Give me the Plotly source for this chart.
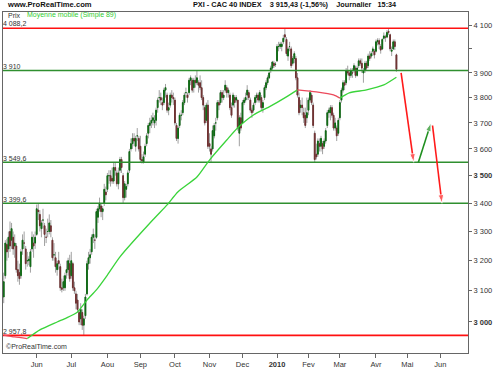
import math
import pandas as pd
import plotly.graph_objects as go

# ---------------- data ----------------
holidays = ["2009-05-01", "2009-12-25", "2010-01-01", "2010-04-02", "2010-04-05"]
first_day, last_day = "2009-04-30", "2010-04-22"

opens = [
    3080,
    3150, 3255, 3240, 3300, 3270, 3280, 3250, 3250, 3170, 3160, 3150, 3240, 3260, 3240, 3200, 3200, 3180, 3240, 3260, 3260,
    3290, 3375, 3360, 3310, 3340, 3320, 3280, 3300, 3300, 3320, 3270, 3220, 3210, 3170, 3200, 3180, 3110, 3110, 3110, 3160, 3170, 3190,
    3150, 3190, 3110, 3090, 3070, 3030, 3010, 3030, 2990, 3020, 3090, 3190, 3210, 3230, 3280, 3270, 3280, 3350, 3380, 3390, 3370, 3400, 3440,
    3450, 3500, 3500, 3490, 3480, 3530, 3510, 3470, 3520, 3560, 3500, 3420, 3450, 3470, 3520, 3600, 3620, 3640, 3610, 3650, 3640,
    3610, 3560, 3550, 3580, 3620, 3660, 3690, 3700, 3710, 3700, 3710, 3760, 3800, 3800, 3780, 3780, 3830, 3810, 3750, 3770, 3810, 3800,
    3790, 3690, 3640, 3690, 3730, 3740, 3780, 3820, 3810, 3820, 3870, 3870, 3840, 3870, 3860, 3860, 3860, 3840, 3800, 3760, 3710, 3770,
    3620, 3600, 3600, 3650, 3700, 3720, 3780, 3780, 3820, 3800, 3830, 3840, 3820, 3810, 3760, 3770, 3800, 3790, 3790, 3660, 3720,
    3700, 3780, 3790, 3810, 3820, 3790, 3750, 3750, 3780, 3800, 3810, 3790, 3800, 3760, 3800, 3840, 3860, 3880, 3910, 3920, 3940, 3935,
    3950, 4010, 4010, 4010, 4030, 4060, 4040, 3970, 4010, 4000, 3940, 3960, 3960, 3880, 3800, 3760, 3770, 3740, 3730, 3720,
    3750, 3790, 3810, 3770, 3660, 3580, 3580, 3620, 3610, 3620, 3610, 3630, 3690, 3740, 3740, 3760, 3730, 3680, 3680, 3660,
    3720, 3790, 3830, 3860, 3860, 3910, 3900, 3890, 3900, 3910, 3920, 3890, 3930, 3950, 3940, 3900, 3910, 3940, 3930, 3970, 3970, 3990, 3990,
    3990, 4030, 4035, 4010, 4000, 4045, 4050, 4050, 4075, 4060, 3990, 4000, 4030, 3975,
]
highs = [
    3160,
    3270, 3275, 3300, 3335, 3330, 3300, 3290, 3260, 3200, 3190, 3240, 3290, 3300, 3250, 3230, 3215, 3240, 3300, 3290, 3300,
    3395, 3400, 3375, 3340, 3380, 3330, 3310, 3345, 3360, 3340, 3280, 3260, 3230, 3200, 3230, 3190, 3140, 3150, 3160, 3200, 3210, 3220,
    3230, 3195, 3130, 3100, 3090, 3040, 3060, 3040, 3020, 3090, 3200, 3230, 3240, 3290, 3310, 3290, 3380, 3390, 3420, 3400, 3390, 3470, 3460,
    3510, 3520, 3520, 3530, 3550, 3550, 3520, 3530, 3570, 3570, 3510, 3480, 3470, 3520, 3600, 3640, 3660, 3660, 3650, 3680, 3650,
    3650, 3580, 3590, 3620, 3660, 3700, 3720, 3730, 3740, 3730, 3760, 3800, 3830, 3820, 3800, 3840, 3855, 3820, 3780, 3820, 3830, 3820,
    3800, 3700, 3690, 3740, 3750, 3790, 3820, 3840, 3820, 3880, 3890, 3880, 3880, 3890, 3910, 3870, 3890, 3870, 3810, 3770, 3780, 3790,
    3660, 3610, 3690, 3700, 3720, 3790, 3790, 3830, 3830, 3830, 3870, 3850, 3840, 3820, 3780, 3820, 3810, 3810, 3790, 3730, 3740,
    3790, 3800, 3820, 3850, 3830, 3800, 3760, 3780, 3810, 3820, 3820, 3830, 3810, 3790, 3850, 3870, 3890, 3905, 3930, 3950, 3950, 3945,
    4020, 4030, 4030, 4030, 4060, 4088, 4050, 4010, 4030, 4010, 3970, 3990, 3970, 3900, 3820, 3790, 3800, 3760, 3760, 3800,
    3800, 3830, 3820, 3780, 3670, 3620, 3640, 3640, 3650, 3630, 3640, 3680, 3750, 3760, 3770, 3770, 3740, 3720, 3690, 3720,
    3790, 3840, 3870, 3870, 3920, 3930, 3910, 3920, 3920, 3940, 3930, 3930, 3960, 3960, 3960, 3920, 3950, 3950, 3980, 3990, 3990, 4010, 4000,
    4040, 4045, 4045, 4020, 4045, 4070, 4060, 4080, 4088, 4065, 4010, 4040, 4040, 3980,
]
lows = [
    3060,
    3140, 3200, 3210, 3230, 3240, 3220, 3210, 3160, 3130, 3120, 3140, 3220, 3240, 3170, 3180, 3185, 3160, 3230, 3210, 3240,
    3285, 3340, 3300, 3280, 3310, 3250, 3260, 3280, 3290, 3280, 3200, 3200, 3160, 3150, 3170, 3100, 3095, 3100, 3100, 3140, 3150, 3130,
    3140, 3100, 3090, 3040, 3030, 2990, 2990, 2975, 2958, 3010, 3085, 3170, 3190, 3220, 3260, 3240, 3275, 3330, 3370, 3350, 3340, 3390, 3410,
    3440, 3470, 3460, 3470, 3470, 3500, 3460, 3450, 3510, 3510, 3400, 3410, 3420, 3460, 3510, 3590, 3600, 3610, 3590, 3630, 3590,
    3550, 3545, 3545, 3570, 3610, 3640, 3660, 3680, 3690, 3680, 3690, 3740, 3780, 3770, 3750, 3770, 3800, 3740, 3730, 3760, 3780, 3770,
    3690, 3630, 3620, 3680, 3710, 3730, 3770, 3800, 3780, 3810, 3850, 3820, 3820, 3840, 3850, 3820, 3830, 3790, 3750, 3690, 3700, 3600,
    3590, 3550, 3590, 3640, 3670, 3710, 3750, 3770, 3780, 3790, 3820, 3800, 3800, 3750, 3720, 3760, 3760, 3780, 3670, 3610, 3670,
    3700, 3770, 3780, 3790, 3790, 3740, 3720, 3740, 3770, 3780, 3780, 3780, 3750, 3740, 3790, 3830, 3850, 3875, 3900, 3910, 3920, 3925,
    3945, 3990, 4000, 3990, 4020, 4040, 3970, 3950, 3990, 3920, 3930, 3940, 3870, 3800, 3730, 3740, 3730, 3700, 3680, 3700,
    3730, 3780, 3770, 3680, 3550, 3560, 3570, 3590, 3590, 3580, 3600, 3620, 3680, 3720, 3710, 3720, 3670, 3670, 3630, 3650,
    3710, 3780, 3820, 3830, 3850, 3890, 3870, 3880, 3880, 3900, 3880, 3885, 3920, 3930, 3900, 3860, 3900, 3910, 3920, 3950, 3960, 3970, 3960,
    3985, 4015, 4000, 3980, 3995, 4040, 4030, 4045, 4060, 3990, 3970, 3995, 3995, 3905,
]
closes = [
    3130,
    3260, 3230, 3280, 3250, 3310, 3240, 3260, 3170, 3150, 3140, 3230, 3270, 3260, 3190, 3200, 3205, 3230, 3280, 3250, 3280,
    3380, 3370, 3320, 3330, 3340, 3290, 3280, 3300, 3330, 3300, 3210, 3220, 3180, 3190, 3190, 3110, 3105, 3130, 3150, 3170, 3200, 3140,
    3200, 3110, 3100, 3060, 3040, 3000, 3040, 2990, 3010, 3080, 3190, 3210, 3220, 3280, 3290, 3270, 3370, 3380, 3400, 3370, 3380, 3450, 3430,
    3500, 3500, 3480, 3480, 3530, 3520, 3470, 3510, 3560, 3530, 3420, 3470, 3460, 3510, 3590, 3620, 3640, 3630, 3640, 3650, 3600,
    3560, 3555, 3570, 3610, 3650, 3690, 3700, 3710, 3720, 3710, 3750, 3790, 3800, 3790, 3770, 3830, 3840, 3750, 3760, 3810, 3800, 3795,
    3700, 3640, 3680, 3730, 3730, 3780, 3810, 3820, 3800, 3870, 3880, 3830, 3870, 3860, 3880, 3850, 3840, 3800, 3770, 3700, 3770, 3610,
    3610, 3580, 3670, 3690, 3700, 3780, 3770, 3820, 3800, 3810, 3850, 3820, 3830, 3760, 3730, 3810, 3780, 3800, 3680, 3720, 3680,
    3780, 3790, 3800, 3830, 3800, 3750, 3740, 3770, 3800, 3810, 3790, 3820, 3760, 3780, 3840, 3860, 3880, 3900, 3920, 3945, 3930, 3936,
    4010, 4010, 4020, 4020, 4045, 4050, 3980, 4000, 4010, 3930, 3960, 3980, 3880, 3810, 3740, 3770, 3760, 3720, 3690, 3740,
    3790, 3820, 3780, 3690, 3560, 3570, 3630, 3610, 3640, 3600, 3630, 3670, 3740, 3750, 3760, 3730, 3680, 3700, 3650, 3710,
    3780, 3830, 3860, 3850, 3910, 3900, 3890, 3910, 3900, 3930, 3890, 3920, 3950, 3940, 3920, 3910, 3940, 3920, 3970, 3960, 3980, 4000, 3975,
    4030, 4035, 4020, 3995, 4040, 4055, 4050, 4070, 4070, 4000, 3995, 4030, 4010, 3915,
]

ma_dates = ["2009-04-30", "2009-05-12", "2009-05-22", "2009-06-03", "2009-06-18", "2009-06-26",
            "2009-07-07", "2009-07-15", "2009-07-23", "2009-08-03", "2009-08-13", "2009-09-11",
            "2009-09-24", "2009-10-05", "2009-10-21", "2009-11-02", "2009-11-17", "2009-11-26",
            "2009-12-10", "2009-12-24", "2010-01-12", "2010-01-21", "2010-02-08", "2010-02-23",
            "2010-03-01", "2010-03-09", "2010-03-24", "2010-04-12", "2010-04-22"]
ma_values = [2959, 2953, 2948, 2975, 3000, 3013,
             3032, 3070, 3103, 3152, 3213, 3341,
             3394, 3441, 3495, 3558, 3634, 3681,
             3731, 3763, 3803, 3831, 3823, 3811,
             3798, 3819, 3831, 3851, 3882]

red_levels = [4088.2, 2957.8]
green_levels = [3910, 3549.6, 3399.6]
level_labels = {4088.2: "4 088,2", 3910: "3 910", 3549.6: "3 549,6", 3399.6: "3 399,6", 2957.8: "2 957,8"}

# projection arrows (dates, values)
arrows = [
    (["2010-04-27", "2010-05-07"], [3900, 3549.6], "#ff1a1a"),
    (["2010-05-12", "2010-05-24"], [3549.6, 3700], "#1f8f1f"),
    (["2010-05-25", "2010-06-02"], [3690, 3399.6], "#ff1a1a"),
]

month_ticks = ["2009-06-01", "2009-07-01", "2009-08-03", "2009-09-01", "2009-10-01", "2009-11-02",
               "2009-12-01", "2010-01-04", "2010-02-01", "2010-03-01", "2010-04-01", "2010-05-03", "2010-06-01"]
month_labels = ["Jun", "Jul", "Aou", "Sep", "Oct", "Nov", "Dec", "<b>2010</b>", "Fev", "Mar", "Avr", "Mai", "Jun"]

price_ticks = [3000, 3100, 3200, 3300, 3400, 3500, 3600, 3700, 3800, 3900, 4000, 4100]
price_labels = ["<b>3 000</b>", "3 100", "3 200", "3 300", "3 400", "<b>3 500</b>", "3 600", "3 700",
                "3 800", "3 900", "", "4 100"]

# ---------------- figure ----------------
days = [d for d in pd.bdate_range(first_day, last_day) if d.strftime("%Y-%m-%d") not in holidays]
assert len(days) == len(opens) == len(highs) == len(lows) == len(closes), (len(days), len(opens), len(highs), len(lows), len(closes))

X_RANGE = ["2009-04-29 13:00", "2010-06-24 14:00"]
Y_RANGE = [math.log10(2903.5), math.log10(4158.6)]
FONT = "Liberation Sans, Arial, sans-serif"

fig = go.Figure()

# horizontal levels
for lv in green_levels:
    fig.add_trace(go.Scatter(x=X_RANGE, y=[lv, lv], mode="lines",
                             line=dict(color="#2f8f2f", width=1.6), hoverinfo="skip", showlegend=False))
for lv in red_levels:
    fig.add_trace(go.Scatter(x=X_RANGE, y=[lv, lv], mode="lines",
                             line=dict(color="#ff1010", width=1.6), hoverinfo="skip", showlegend=False))

# wicks (gray)
fig.add_trace(go.Candlestick(
    x=days, open=opens, high=highs, low=lows, close=closes,
    increasing=dict(line=dict(color="#a0a0a0", width=1), fillcolor="#a0a0a0"),
    decreasing=dict(line=dict(color="#a0a0a0", width=1), fillcolor="#a0a0a0"),
    whiskerwidth=0, hoverinfo="skip", showlegend=False))
# bodies (coloured)
body_hi = [max(o, c) for o, c in zip(opens, closes)]
body_lo = [min(o, c) for o, c in zip(opens, closes)]
fig.add_trace(go.Candlestick(
    x=days, open=opens, high=body_hi, low=body_lo, close=closes,
    increasing=dict(line=dict(color="#0f6a14", width=1), fillcolor="#0f6a14"),
    decreasing=dict(line=dict(color="#703232", width=1), fillcolor="#703232"),
    whiskerwidth=0, hoverinfo="skip", showlegend=False))

# moving average, coloured by slope
runs = []
for i in range(len(ma_values) - 1):
    col = "#3ad43a" if ma_values[i + 1] >= ma_values[i] else "#ec4a5c"
    if runs and runs[-1][0] == col:
        runs[-1][1].append(i + 1)
    else:
        runs.append((col, [i, i + 1]))
for col, idx in runs:
    fig.add_trace(go.Scatter(x=[ma_dates[k] for k in idx], y=[ma_values[k] for k in idx], mode="lines",
                             line=dict(color=col, width=1.3, shape="spline", smoothing=0.6),
                             hoverinfo="skip", showlegend=False))

# arrows
for xs, ys, col in arrows:
    fig.add_trace(go.Scatter(x=xs, y=ys, mode="lines+markers",
                             line=dict(color=col, width=1.6),
                             marker=dict(symbol="arrow", size=[0, 9], angleref="previous", color=col),
                             hoverinfo="skip", showlegend=False))

# level labels
for lv, txt in level_labels.items():
    fig.add_trace(go.Scatter(x=[X_RANGE[0]], y=[lv], mode="text", text=[txt],
                             textposition="top right",
                             textfont=dict(family=FONT, size=7, color="#333333"),
                             hoverinfo="skip", showlegend=False))

ann = [
    dict(text="<b>www.ProRealTime.com</b>", x=0.004, y=1.021, xanchor="left", yanchor="middle",
         font=dict(size=7.6, color="#111111", family=FONT)),
    dict(text="<b>PXI - CAC 40 INDEX    3 915,43 (-1,56%)    Journalier   15:34</b>", x=0.404, y=1.021,
         xanchor="left", yanchor="middle", font=dict(size=7.3, color="#111111", family=FONT)),
    dict(text="Prix", x=0.006, y=0.991, xanchor="left", yanchor="middle",
         font=dict(size=7, color="#333333", family=FONT)),
    dict(text="Moyenne mobile (Simple 89)", x=0.047, y=0.991, xanchor="left", yanchor="middle",
         font=dict(size=7, color="#33cc33", family=FONT)),
    dict(text="©ProRealTime.com", x=0.002, y=0.003, xanchor="left", yanchor="bottom",
         font=dict(size=7, color="#333333", family=FONT)),
]
for a in ann:
    a.update(xref="paper", yref="paper", showarrow=False)

fig.update_layout(
    width=500, height=375,
    margin=dict(l=3, r=32, t=12, b=22),
    paper_bgcolor="white", plot_bgcolor="white",
    annotations=ann,
    xaxis=dict(type="date", range=X_RANGE,
               rangebreaks=[dict(bounds=["sat", "mon"]), dict(values=holidays)],
               rangeslider=dict(visible=False),
               tickmode="array", tickvals=month_ticks, ticktext=month_labels,
               ticks="outside", ticklen=4, tickcolor="#666666",
               tickfont=dict(family=FONT, size=7.5, color="#333333"),
               showgrid=False, zeroline=False, showline=True, mirror=True,
               linecolor="#666666", linewidth=1),
    yaxis=dict(type="log", range=Y_RANGE, side="right",
               tickmode="array", tickvals=price_ticks, ticktext=price_labels,
               ticks="outside", ticklen=3, tickcolor="#666666",
               tickfont=dict(family=FONT, size=7.5, color="#333333"),
               showgrid=False, zeroline=False, showline=True, mirror=True,
               linecolor="#666666", linewidth=1),
)

fig.write_html("out.html", config={"displayModeBar": False},
               post_script="document.body.style.margin='0';document.body.style.overflow='hidden';")
